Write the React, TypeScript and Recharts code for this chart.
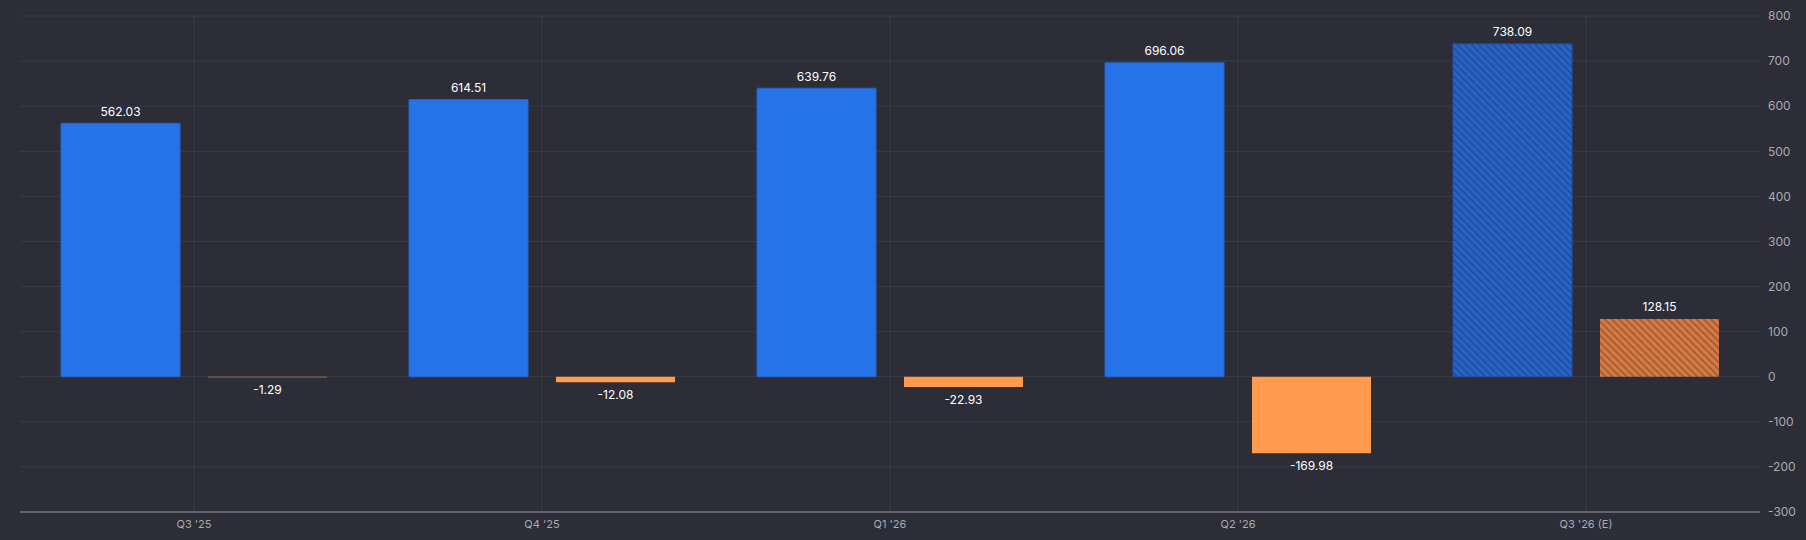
import React from 'react';
import { BarChart, Bar, XAxis, YAxis, CartesianGrid, Cell, LabelList, ReferenceLine } from 'recharts';

const quarters = ["Q3 '25", "Q4 '25", "Q1 '26", "Q2 '26", "Q3 '26 (E)"];
const revenue = [562.03, 614.51, 639.76, 696.06, 738.09];
const earnings = [-1.29, -12.08, -22.93, -169.98, 128.15];
const estimated = [false, false, false, false, true];
const yTicks = [-300, -200, -100, 0, 100, 200, 300, 400, 500, 600, 700, 800];

const data = quarters.map((name, i) => ({
    name,
    revenue: revenue[i],
    earnings: earnings[i],
    estimate: estimated[i],
}));

const colors = {
    bg: '#2c2d36',
    grid: '#3a3b45',
    axis: '#63646d',
    tickText: '#a9aab2',
    blue: '#2673e8',
    blueEdge: '#2466cf',
    orange: '#ff9a4e',
};

const ValueLabel = (props: any) => {
    const { x, y, width, height, value } = props;
    const top = Math.min(y, y + height);
    const bottom = Math.max(y, y + height);
    const ly = value >= 0 ? top - 12 : bottom + 12;
    return (
        <text
            x={x + width / 2}
            y={ly}
            fill="#ffffff"
            fontSize={12}
            fontFamily="Inter, sans-serif"
            textAnchor="middle"
            dominantBaseline="central"
        >
            {value.toFixed(2)}
        </text>
    );
};

export default function App() {
    return (
        <div style={{ position: 'fixed', top: 0, left: 0, width: 1806, height: 540, background: colors.bg }}>
            <BarChart
                width={1806}
                height={540}
                data={data}
                margin={{ top: 16, right: 0, left: 20, bottom: 0 }}
                barSize={119}
                barGap={28}
            >
                <defs>
                    <pattern id="hatchBlue" width="5" height="5" patternUnits="userSpaceOnUse" patternTransform="rotate(45)">
                        <rect width="5" height="5" fill="#2a63c6" />
                        <rect width="5" height="2" fill="#2150a6" />
                    </pattern>
                    <pattern id="hatchOrange" width="5" height="5" patternUnits="userSpaceOnUse" patternTransform="rotate(45)">
                        <rect width="5" height="5" fill="#d27b45" />
                        <rect width="5" height="2" fill="#a95e34" />
                    </pattern>
                </defs>
                <CartesianGrid stroke={colors.grid} strokeWidth={1} vertical={false} />
                {/* vertical grid only at the category centres */}
                {quarters.map((q) => (
                    <ReferenceLine key={q} x={q} stroke={colors.grid} strokeWidth={1} />
                ))}
                <XAxis
                    dataKey="name"
                    height={28}
                    axisLine={{ stroke: colors.axis, strokeWidth: 2 }}
                    tickLine={false}
                    tick={{ fill: colors.tickText, fontSize: 11, fontFamily: 'Inter, sans-serif' }}
                />
                <YAxis
                    orientation="right"
                    width={46}
                    domain={[-300, 800]}
                    ticks={yTicks}
                    interval={0}
                    axisLine={false}
                    tickLine={false}
                    tick={{ fill: colors.tickText, fontSize: 12, fontFamily: 'Inter, sans-serif', textAnchor: 'start' }}
                />
                <Bar dataKey="revenue" fill={colors.blue} stroke={colors.blueEdge} strokeWidth={1} isAnimationActive={false}>
                    {data.map((d, i) => (
                        <Cell key={i} fill={d.estimate ? 'url(#hatchBlue)' : colors.blue} stroke={d.estimate ? '#2150a6' : colors.blueEdge} />
                    ))}
                    <LabelList dataKey="revenue" content={<ValueLabel />} />
                </Bar>
                <Bar dataKey="earnings" fill={colors.orange} isAnimationActive={false}>
                    {data.map((d, i) => (
                        <Cell key={i} fill={d.estimate ? 'url(#hatchOrange)' : colors.orange} />
                    ))}
                    <LabelList dataKey="earnings" content={<ValueLabel />} />
                </Bar>
            </BarChart>
        </div>
    );
}
